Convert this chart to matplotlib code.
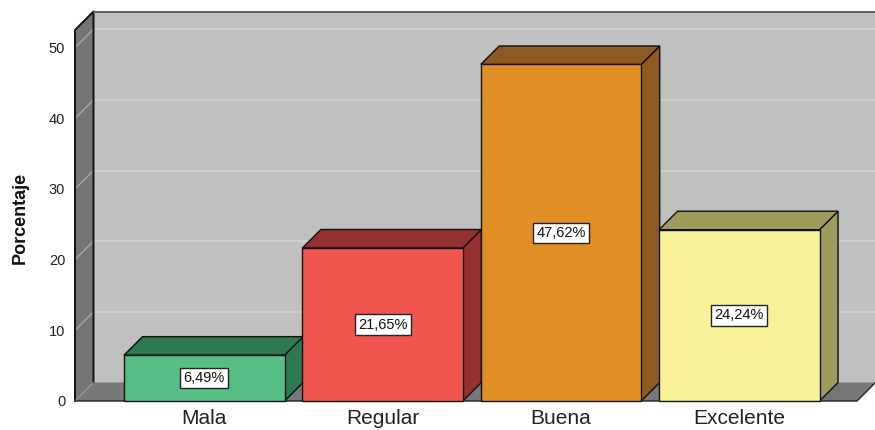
import matplotlib.pyplot as plt
from matplotlib.patches import Polygon, Rectangle
import numpy as np

plt.rcParams['font.family'] = ['Liberation Sans', 'DejaVu Sans']

categories = ['Mala', 'Regular', 'Buena', 'Excelente']
porcentajes = [6.49, 21.65, 47.62, 24.24]
etiquetas = ['6,49%', '21,65%', '47,62%', '24,24%']
y_ticks = [0, 10, 20, 30, 40, 50]

front_colors = ['#56be84', '#f15550', '#e18e25', '#f7f197']
dark_colors = ['#2d7a52', '#943030', '#8d5a24', '#9e9c5b']

ymax = 52.5
xl, xr = -0.725, 3.66
bar_w = 0.9
depth_px = 18.5

fig = plt.figure(figsize=(8.75, 4.3), dpi=100)
ax = fig.add_axes([75 / 875, 29 / 430, 782 / 875, 371 / 430])
ax.set_xlim(xl, xr)
ax.set_ylim(0, ymax)

# depth offset of the 3d look, in data units
p0 = ax.transData.transform((0, 0))
dx, dy = ax.transData.inverted().transform(p0 + depth_px)

def poly(pts, fc, ec='none', lw=0.0, z=1):
    ax.add_patch(Polygon(pts, closed=True, facecolor=fc, edgecolor=ec,
                         linewidth=lw, zorder=z, clip_on=False))

# back wall
poly([(xl + dx, dy), (xr + 2, dy), (xr + 2, ymax + dy), (xl + dx, ymax + dy)], '#c0c0c0', z=0)
# floor
poly([(xl, 0), (xr, 0), (xr + dx, dy), (xl + dx, dy)], '#777777', z=1)
# left wall
poly([(xl, 0), (xl, ymax), (xl + dx, ymax + dy), (xl + dx, dy)], '#747474', z=1)

for t in y_ticks[1:]:
    ax.plot([xl + dx, xr + 2], [t + dy, t + dy], color='#d0d0d0', lw=1.2, zorder=0.5, clip_on=False)
    ax.plot([xl, xl + dx], [t, t + dy], color='#a8a8a8', lw=1.0, zorder=1.5, clip_on=False)

# edges of the walls
ax.plot([xl, xl, xl + dx, xl + dx], [0, ymax, ymax + dy, dy], color='#111111', lw=1.4, zorder=2, clip_on=False)
ax.plot([xl + dx, xr + 2], [ymax + dy, ymax + dy], color='#555555', lw=1.3, zorder=2, clip_on=False)
ax.plot([xl, xl + dx], [0, dy], color='#999999', lw=0.8, zorder=2, clip_on=False)
ax.plot([xl, xr, xr + dx], [0, 0, dy], color='#222222', lw=1.0, zorder=2, clip_on=False)

x = np.arange(len(categories))
for i, v in enumerate(porcentajes):
    x0, x1 = x[i] - bar_w / 2, x[i] + bar_w / 2
    z = 3 + i
    # side face
    poly([(x1, 0), (x1 + dx, dy), (x1 + dx, v + dy), (x1, v)], dark_colors[i], '#111111', 1.0, z)
    # top face
    poly([(x0, v), (x1, v), (x1 + dx, v + dy), (x0 + dx, v + dy)], dark_colors[i], '#111111', 1.0, z)
    # front face
    ax.add_patch(Rectangle((x0, 0), bar_w, v, facecolor=front_colors[i], edgecolor='#111111',
                           linewidth=1.0, zorder=z, clip_on=False))
    ax.text(x[i], v / 2, etiquetas[i], ha='center', va='center', fontsize=10.5, color='#111111',
            zorder=z + 0.5,
            bbox=dict(boxstyle='square,pad=0.22', facecolor='white', edgecolor='#222222', linewidth=1.0))

ax.set_xticks(x)
ax.set_xticklabels(categories, fontsize=15, color='#222222')
ax.set_yticks(y_ticks)
ax.set_yticklabels([str(t) for t in y_ticks], fontsize=10.5, color='#222222')
ax.tick_params(axis='both', length=0)
ax.tick_params(axis='x', pad=6)
ax.tick_params(axis='y', pad=7)
for s in ax.spines.values():
    s.set_visible(False)
ax.patch.set_visible(False)

fig.text(20 / 875, 1 - 218 / 430, 'Porcentaje', rotation=90, fontsize=13, fontweight='bold',
         ha='center', va='center', color='#111111')

fig.savefig('out.png', dpi=100)
